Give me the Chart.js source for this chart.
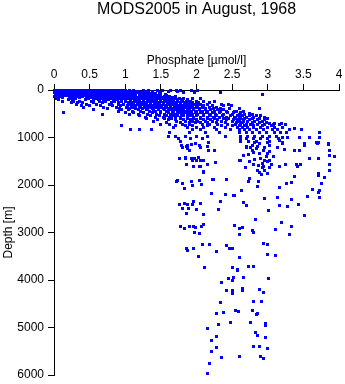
<!DOCTYPE html>
<html>
<head>
<meta charset="utf-8">
<title>MODS2005 phosphate profile</title>
<script src="https://cdn.jsdelivr.net/npm/chart.js@4.4.1/dist/chart.umd.min.js"></script>
<style>
  html, body { margin: 0; padding: 0; background: #fff; }
  canvas { display: block; }
</style>
</head>
<body>
<canvas id="profile" width="345" height="384"></canvas>
<script>
const titleText = 'MODS2005 in August, 1968';
const xLabel = 'Phosphate [µmol/l]';
const yLabel = 'Depth [m]';

// [phosphate (µmol/l), depth (m)] pairs, grouped by depth range
const surfaceLayer = [
    [0.01,0],[0.05,0],[0.09,0],[0.13,0],[0.17,0],[0.21,0],[0.25,0],[0.29,0],[0.33,0],[0.37,0],
    [0.41,0],[0.45,0],[0.49,0],[0.53,0],[0.57,0],[0.61,0],[0.65,0],[0.69,0],[0.73,0],[0.77,0],
    [0.81,0],[0.85,0],[0.89,0],[0.93,0],[0.97,0],[1.01,0],[1.06,0],[1.12,0],[1.25,0],[1.33,0],
    [1.45,0],[1.52,0],[1.63,0],[1.72,0],[1.78,0],[1.93,0],[2.02,0],
    [2.33,55],[2.92,85],[1.6,40],[1.74,30],[1.82,60],[1.97,50],
    [0.03,22],[0.07,22],[0.11,22],[0.15,22],[0.19,22],[0.23,22],[0.27,22],[0.31,22],[0.35,22],[0.39,22],
    [0.43,22],[0.47,22],[0.51,22],[0.55,22],[0.59,22],[0.63,22],[0.67,22],[0.71,22],[0.75,22],[0.79,22],
    [0.83,22],[0.87,22],[0.91,22],[0.95,22],[0.99,22],[1.03,22],[1.08,22],[1.14,22],[1.19,22],[1.28,22],
    [1.38,22],
    [0.01,45],[0.05,45],[0.09,45],[0.13,45],[0.17,45],[0.21,45],[0.25,45],[0.29,45],[0.33,45],[0.37,45],
    [0.41,45],[0.45,45],[0.49,45],[0.53,45],[0.57,45],[0.61,45],[0.65,45],[0.69,45],[0.73,45],[0.77,45],
    [0.81,45],[0.85,45],[0.89,45],[0.93,45],[0.97,45],[1.01,45],[1.09,45],[1.16,45],[1.22,45],[1.3,45],
    [1.38,45],[1.48,45],
    [0.03,67],[0.07,67],[0.11,67],[0.15,67],[0.19,67],[0.23,67],[0.27,67],[0.31,67],[0.35,67],[0.39,67],
    [0.43,67],[0.47,67],[0.51,67],[0.55,67],[0.59,67],[0.63,67],[0.67,67],[0.71,67],[0.75,67],[0.79,67],
    [0.83,67],[0.87,67],[0.91,67],[0.95,67],[0.99,67],[1.05,67],[1.12,67],[1.2,67],[1.26,67],[1.34,67],
    [1.42,67],[1.5,67],
    [0.02,90],[0.06,90],[0.1,90],[0.14,90],[0.18,90],[0.22,90],[0.26,90],[0.3,90],[0.34,90],[0.38,90],
    [0.42,90],[0.46,90],[0.5,90],[0.54,90],[0.58,90],[0.62,90],[0.66,90],[0.7,90],[0.74,90],[0.78,90],
    [0.82,90],[0.86,90],[0.9,90],[0.94,90],[0.98,90],[1.04,90],[1.1,90],[1.15,90],[1.2,90],[1.28,90],
    [1.36,90],[1.42,90],[1.5,90],[1.56,90],
    [0.04,112],[0.08,112],[0.12,112],[0.16,112],[0.2,112],[0.24,112],[0.28,112],[0.32,112],[0.36,112],[0.4,112],
    [0.44,112],[0.48,112],[0.52,112],[0.56,112],[0.6,112],[0.64,112],[0.68,112],[0.72,112],[0.76,112],[0.8,112],
    [0.84,112],[0.88,112],[0.92,112],[0.96,112],[1.0,112],[1.06,112],[1.13,112],[1.24,112],[1.32,112],[1.4,112],
    [1.47,112],[1.58,112],
    [0.01,135],[0.05,135],[0.1,135],[0.24,135],[0.28,135],[0.33,135],[0.4,135],[0.5,135],[0.55,135],[0.6,135],
    [0.65,135],[0.7,135],[0.75,135],[0.8,135],[0.85,135],[0.9,135],[0.95,135],[1.0,135],[1.05,135],[1.1,135],
    [1.15,135],[1.2,135],[1.25,135],[1.3,135],[1.35,135],[1.4,135],[1.45,135],[1.5,135],[1.55,135],[1.62,135],
    [1.7,135],
    [0.03,158],[0.07,158],[0.12,158],[0.3,158],[0.36,158],[0.45,158],[0.52,158],[0.57,158],[0.62,158],[0.68,158],
    [0.72,158],[0.77,158],[0.83,158],[0.88,158],[0.92,158],[0.97,158],[1.02,158],[1.08,158],[1.12,158],[1.18,158],
    [1.22,158],[1.28,158],[1.32,158],[1.38,158],[1.42,158],[1.48,158],[1.53,158],[1.6,158],[1.66,158],
    [0.04,180],[0.22,180],[0.3,180],[0.48,180],[0.58,180],[0.66,180],[0.74,180],[0.8,180],[0.86,180],[0.92,180],
    [0.98,180],[1.04,180],[1.1,180],[1.16,180],[1.22,180],[1.28,180],[1.34,180],[1.4,180],[1.46,180],[1.52,180],
    [1.58,180],[1.64,180],[1.7,180],[1.76,180],[1.82,180],[1.95,180],[2.05,180]
];

const upperLayer = [
    [0.06,210],[0.2,210],[0.26,210],[0.44,210],[0.55,210],[0.62,210],[0.7,210],[0.77,210],[0.83,210],[0.89,210],
    [0.95,210],[1.01,210],[1.07,210],[1.13,210],[1.19,210],[1.25,210],[1.31,210],[1.37,210],[1.43,210],[1.49,210],
    [1.55,210],[1.61,210],[1.67,210],[1.73,210],[1.79,210],[1.88,210],
    [0.12,240],[0.28,240],[0.36,240],[0.52,240],[0.64,240],[0.72,240],[0.85,240],[0.95,240],[1.0,240],[1.08,240],
    [1.14,240],[1.2,240],[1.26,240],[1.32,240],[1.38,240],[1.44,240],[1.5,240],[1.56,240],[1.62,240],[1.68,240],
    [1.74,240],[1.8,240],[1.86,240],[1.92,240],[2.0,240],[2.1,240],[2.25,240],
    [0.25,270],[0.33,270],[0.4,270],[0.56,270],[0.68,270],[0.8,270],[0.9,270],[1.04,270],[1.1,270],[1.17,270],
    [1.23,270],[1.29,270],[1.35,270],[1.41,270],[1.47,270],[1.53,270],[1.59,270],[1.65,270],[1.71,270],[1.77,270],
    [1.83,270],[1.89,270],[1.95,270],[2.03,270],[2.18,270],
    [0.32,300],[0.45,300],[0.6,300],[0.78,300],[0.9,300],[0.98,300],[1.06,300],[1.12,300],[1.18,300],[1.24,300],
    [1.3,300],[1.36,300],[1.42,300],[1.48,300],[1.54,300],[1.6,300],[1.66,300],[1.72,300],[1.78,300],[1.84,300],
    [1.9,300],[1.98,300],[2.06,300],[2.15,300],[2.35,295],[2.45,300],
    [0.38,330],[0.5,330],[0.65,330],[0.82,330],[0.94,330],[1.03,330],[1.09,330],[1.15,330],[1.21,330],[1.27,330],
    [1.33,330],[1.39,330],[1.45,330],[1.51,330],[1.57,330],[1.63,330],[1.69,330],[1.75,330],[1.81,330],[1.87,330],
    [1.94,330],[2.02,330],[2.1,330],[2.22,330],[2.38,330],[2.49,335],
    [0.42,360],[0.7,360],[0.88,360],[1.02,360],[1.1,360],[1.2,360],[1.28,360],[1.35,360],[1.42,360],[1.5,360],
    [1.58,360],[1.64,360],[1.7,360],[1.78,360],[1.85,360],[1.92,360],[2.0,360],[2.08,360],[2.18,360],[2.28,360],
    [0.75,390],[0.92,390],[1.06,390],[1.15,390],[1.24,390],[1.31,390],[1.38,390],[1.46,390],[1.54,390],[1.61,390],
    [1.67,390],[1.74,390],[1.81,390],[1.88,390],[1.96,390],[2.04,390],[2.13,390],[2.24,390],[2.34,390],[2.46,390],
    [2.6,390],[2.88,380],
    [0.55,420],[0.95,420],[1.05,420],[1.18,420],[1.3,420],[1.4,420],[1.46,420],[1.55,420],[1.62,420],[1.7,420],
    [1.76,420],[1.82,420],[1.9,420],[1.96,420],[2.04,420],[2.12,420],[2.2,420],[2.3,420],[2.38,420],[2.56,455],
    [0.9,450],[1.1,450],[1.22,450],[1.34,450],[1.43,450],[1.5,450],[1.58,450],[1.66,450],[1.73,450],[1.79,450],
    [1.86,450],[1.93,450],[2.0,450],[2.08,450],[2.16,450],[2.25,450],[2.34,450],[2.42,450],[2.54,450],[2.66,450],
    [0.13,480],[1.0,480],[1.12,480],[1.25,480],[1.38,480],[1.5,480],[1.6,480],[1.68,480],[1.75,480],[1.83,480],
    [1.9,480],[1.98,480],[2.06,480],[2.14,480],[2.22,480],[2.32,480],[2.44,480],[2.52,480],[2.62,470],[2.75,485],
    [0.68,510],[1.06,510],[1.18,510],[1.31,510],[1.44,510],[1.55,510],[1.64,510],[1.71,510],[1.79,510],[1.87,510],
    [1.94,510],[2.02,510],[2.1,510],[2.18,510],[2.27,510],[2.38,510],[2.5,510],[2.6,510],[2.68,510],[2.78,510],
    [1.2,540],[1.35,540],[1.48,540],[1.58,540],[1.66,540],[1.74,540],[1.82,540],[1.92,540],[2.0,540],[2.1,540],
    [2.2,540],[2.28,540],[2.36,540],[2.48,540],[2.58,540],[2.64,540],[2.74,540],[2.84,540],[2.9,540],
    [1.28,570],[1.42,570],[1.53,570],[1.62,570],[1.7,570],[1.78,570],[1.87,570],[1.96,570],[2.05,570],[2.15,570],
    [2.24,570],[2.32,570],[2.42,570],[2.53,570],[2.61,570],[2.7,570],[2.8,570],[2.95,570]
];

const thermocline = [
    [1.3,600],[1.55,600],[1.65,600],[1.78,600],[1.88,600],[1.96,600],[2.05,600],[2.15,600],[2.25,600],[2.38,600],
    [2.45,600],[2.55,600],[2.62,600],[2.68,600],[2.78,600],[2.88,600],[3.0,600],
    [1.45,630],[1.6,630],[1.7,630],[1.82,630],[1.92,630],[2.0,630],[2.1,630],[2.2,630],[2.3,630],[2.42,630],
    [2.52,630],[2.58,630],[2.66,630],[2.75,630],[2.85,630],[2.95,630],
    [1.4,660],[1.72,660],[1.85,660],[1.95,660],[2.02,660],[2.12,660],[2.22,660],[2.35,660],[2.5,660],[2.6,660],
    [2.66,660],[2.72,660],[2.82,660],[2.92,660],[3.03,695],[3.1,695],[3.19,695],
    [1.58,690],[1.78,690],[1.9,690],[1.98,690],[2.06,690],[2.16,690],[2.28,690],[2.4,690],[2.56,690],[2.64,690],
    [2.78,690],[2.88,690],[2.98,690],
    [1.5,720],[1.62,720],[1.8,720],[1.9,720],[2.08,720],[2.18,720],[2.3,720],[2.44,720],[2.55,720],[2.62,720],
    [2.7,720],[2.76,720],[2.86,720],[2.96,720],[3.08,720],[3.16,720],[3.25,720],
    [0.95,750],[1.7,750],[1.85,750],[1.95,750],[2.15,750],[2.35,750],[2.5,750],[2.6,750],[2.68,750],[2.8,750],
    [2.92,750],[3.05,750],
    [1.68,780],[1.88,780],[2.0,780],[2.1,780],[2.25,780],[2.4,780],[2.58,780],[2.64,780],[2.72,780],
    [2.8,780],[2.9,780],[3.0,780],[3.1,780],[3.2,780],[3.38,800],
    [1.07,840],[1.2,840],[1.37,840],[1.95,840],[2.05,840],[2.28,840],[2.48,840],[2.6,840],[2.68,840],[2.74,840],
    [2.84,840],[2.94,840],[3.06,840],[3.14,840],[3.3,840],[3.48,840],[3.72,885],
    [1.62,900],[1.9,900],[2.12,900],[2.32,900],[2.6,900],[2.7,900],[2.78,900],[2.88,900],[2.98,900],[3.1,900],
    [3.18,900],[3.26,900],[3.73,905],
    [1.6,970],[1.7,970],[1.85,970],[2.0,970],[2.15,970],[2.4,970],[2.62,970],[2.72,970],[2.82,970],[2.92,970],
    [3.02,970],[3.12,970],[3.21,990],[3.28,990],[3.45,990],[3.59,990],[3.73,990],
    [1.75,1030],[1.92,1030],[2.08,1030],[2.62,1030],[2.7,1030],[2.8,1030],[2.9,1030],[3.0,1030],[3.15,1030],[3.58,1010]
];

const midDepth = [
    [1.78,1075],[1.79,1160],[1.86,1180],[1.93,1145],[1.98,1125],[2.04,1160],[2.05,1205],[1.90,1265],[1.80,1220],
    [2.15,1180],[2.17,1095],[2.17,1280],[2.25,1265],[1.87,1160],[1.88,1240],
    [1.93,1440],[1.97,1440],[2.03,1420],[2.05,1475],[2.00,1490],[1.85,1440],[1.76,1450],[1.84,1430],[1.95,1475],
    [1.86,1560],[1.96,1615],[2.04,1600],[2.10,1490],[2.15,1570],[2.26,1525],[2.05,1600],[2.10,1725],[2.1,1740],
    [1.72,1930],[1.80,1960],[1.83,2080],[1.93,1930],[1.95,2000],[2.04,1910],[2.07,1985],[2.24,1880],[2.42,1890],
    [1.73,1895],[2.23,1875],[2.21,2175],[2.40,2195],[2.53,2215],[2.63,2120],
    [2.74,1865],[2.73,1925],[2.87,1935],[2.86,2040],[3.16,2055],[3.27,1965],[3.34,1950],[3.38,1825],
    [3.63,2105],[3.71,2155],[3.73,2120],[3.75,1960],[3.80,1845],[3.71,1760],[3.71,1805],[3.87,1685],[3.87,1565],
    [3.93,1410],[3.87,1385],[3.71,1445],[3.59,1440],[3.87,1265],[3.85,1145],[3.70,1130],[3.51,1165],
    [3.85,1135],[3.71,1115],[3.51,1135],[3.21,1115],[3.69,1115],
    [3.40,1570],[3.46,1565],[3.42,1600],[3.25,1565],[3.17,1605],[3.38,1265],[3.44,1270],[3.23,1255],[3.21,1125],
    [3.13,1205],[3.08,1410],[3.03,1490],[2.96,1490],[2.93,1545],[2.87,1595],[2.92,1635],[2.96,1685],[2.89,1740],
    [2.91,1785],[3.02,1630],[2.99,1515],[2.75,1515],[2.69,1630],[2.61,1480],[2.66,1375],[2.73,1355],[2.80,1310],
    [2.84,1235],[2.94,1265],[3.02,1290],[3.03,1175],[2.99,1115],[2.89,1130],[2.81,1115],[2.70,1220],[2.76,1205],
    [2.62,1085],[2.73,1080],[2.84,1075],[3.03,1080],[3.16,1065],[2.62,1475],[2.70,1190],
    [2.79,1160],[2.86,1180],[2.95,1210],[3.0,1345],[2.98,1400],[2.9,1450],[2.82,1470],[2.8,1560],[3.05,1570],
    [2.94,1600],[2.85,1700],[3.0,1760],[2.78,1280],[2.88,1330]
];

const deepWater = [
    [1.76,2405],[1.83,2385],[1.87,2400],[1.96,2350],[1.95,2420],[2.05,2385],[1.89,2490],[1.81,2505],[2.0,2510],
    [1.86,2595],[2.10,2630],[2.33,2345],[2.31,2510],[2.40,2210],[2.52,2225],[2.66,2365],[2.70,2430],[2.95,2280],
    [3.01,2530],[3.13,2260],[3.16,2440],[3.28,2455],[3.34,2300],[3.43,2405],[3.51,2640],[3.56,2240],[3.72,2260],
    [2.83,2735],[1.77,2870],[1.83,2910],[1.90,2870],[1.96,2870],[1.99,2905],[2.07,2875],[2.10,2830],[1.97,2995],
    [2.04,3025],[2.54,2850],[2.61,2910],[2.65,2890],[2.61,3045],[2.78,2955],[2.80,3000],[3.11,2935],[3.19,2780],
    [3.34,2865],[3.30,3050],[1.86,3345],[1.88,3375],[1.96,3345],[2.03,3500],[2.08,3255],[2.18,3250],[2.28,3395],
    [2.42,3280],[2.46,3345],[2.50,3335],[2.61,3535],[2.11,3745],[2.50,3735],[2.57,3770],[2.73,3715],[2.80,3715],
    [2.94,3235],[3.0,3250],[3.0,3460],[3.11,3480],[2.58,3790],[2.45,3970],[2.52,3950],[2.66,3950],[3.01,3960]
];

const abyss = [
    [2.35,4050],[2.50,4020],[2.42,4215],[2.50,4230],[2.50,4285],[2.65,4175],[2.64,4215],[2.88,4195],[2.94,4260],
    [2.33,4470],[2.80,4450],[2.91,4455],[2.38,4675],[2.28,4700],[2.55,4650],[2.59,4665],[2.79,4640],[2.85,4700],
    [2.84,4730],[2.48,4890],[2.76,4895],[2.97,4910],[2.97,4960],[2.31,4945],[2.16,5030],[2.83,5115],[2.86,5165],
    [2.97,5205],[2.28,5185],[2.21,5270],[2.28,5430],[2.21,5515],[2.80,5410],[2.88,5390],[2.99,5445],[2.61,5600],
    [2.35,5635],[2.90,5600],[2.94,5650],[2.18,5760],[2.15,5965]
];

const xTicks = [0, 0.5, 1, 1.5, 2, 2.5, 3, 3.5, 4];
const yTicks = [0, 1000, 2000, 3000, 4000, 5000, 6000];

const fontFamily = "'Liberation Sans', Arial, Helvetica, sans-serif";
Chart.defaults.font.family = fontFamily;
Chart.defaults.color = '#000';

// 3x3 solid square used as the sample marker
function makeMarker(size, color) {
    const c = document.createElement('canvas');
    c.width = size;
    c.height = size;
    const g = c.getContext('2d');
    g.fillStyle = color;
    g.fillRect(0, 0, size, size);
    return c;
}
const marker = makeMarker(3, '#0000ff');

// keep markers pixel-sharp
const crispMarkers = {
    id: 'crispMarkers',
    beforeDatasetsDraw(chart) {
        chart.ctx.save();
        chart.ctx.imageSmoothingEnabled = false;
    },
    afterDatasetsDraw(chart) {
        chart.ctx.restore();
    }
};

// main heading, centred over the plot area rather than the whole canvas
const headingPlugin = {
    id: 'heading',
    afterDraw(chart) {
        const { ctx, chartArea } = chart;
        ctx.save();
        ctx.font = '16px ' + fontFamily;
        ctx.fillStyle = '#000';
        ctx.textAlign = 'center';
        ctx.textBaseline = 'alphabetic';
        ctx.fillText(titleText, (chartArea.left + chartArea.right) / 2, 14);
        ctx.restore();
    }
};

function toPoints(list) {
    return list.map(p => ({ x: p[0], y: p[1] }));
}

const allSamples = [].concat(surfaceLayer, upperLayer, thermocline, midDepth, deepWater, abyss);

const ctx = document.getElementById('profile').getContext('2d');
new Chart(ctx, {
    type: 'scatter',
    data: {
        datasets: [{
            data: toPoints(allSamples),
            pointStyle: marker,
            pointRadius: 2,
            pointBorderWidth: 0,
            backgroundColor: '#0000ff',
            borderColor: '#0000ff',
            clip: false
        }]
    },
    options: {
        responsive: false,
        animation: false,
        layout: { padding: { top: 40, right: 6, bottom: 9, left: 0 } },
        plugins: {
            legend: { display: false },
            tooltip: { enabled: false }
        },
        scales: {
            x: {
                type: 'linear',
                position: 'top',
                min: xTicks[0],
                max: xTicks[xTicks.length - 1],
                afterBuildTicks: scale => { scale.ticks = xTicks.map(v => ({ value: v })); },
                afterFit: scale => { scale.height = 50; },
                ticks: {
                    color: '#000',
                    font: { size: 12 },
                    padding: 2,
                    maxRotation: 0,
                    callback: v => String(v)
                },
                grid: { drawOnChartArea: false, tickLength: 6, color: '#000', lineWidth: 1 },
                border: { display: true, color: '#000', width: 1 },
                title: {
                    display: true,
                    text: xLabel,
                    color: '#000',
                    font: { size: 12 },
                    padding: { top: 13, bottom: 0 }
                }
            },
            y: {
                type: 'linear',
                reverse: true,
                min: yTicks[0],
                max: yTicks[yTicks.length - 1],
                afterBuildTicks: scale => { scale.ticks = yTicks.map(v => ({ value: v })); },
                // fixed gutter; the end labels may overhang into the outer padding
                afterFit: scale => {
                    scale.width = 54;
                    scale.paddingTop = 0;
                    scale.paddingBottom = 0;
                },
                ticks: {
                    color: '#000',
                    font: { size: 12 },
                    padding: 4,
                    callback: v => String(v)
                },
                grid: { drawOnChartArea: false, tickLength: 6, color: '#000', lineWidth: 1 },
                border: { display: true, color: '#000', width: 1 },
                title: {
                    display: true,
                    text: yLabel,
                    color: '#000',
                    font: { size: 12 },
                    padding: { top: 1, bottom: 0 }
                }
            }
        }
    },
    plugins: [crispMarkers, headingPlugin]
});
</script>
</body>
</html>
